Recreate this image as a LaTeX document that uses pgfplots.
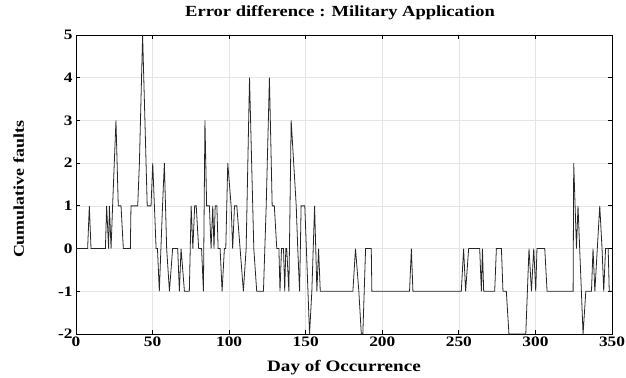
\documentclass[border=0pt]{standalone}
\usepackage{pgfplots}
\pgfplotsset{compat=1.18}
\usepackage{fontspec}
\setmainfont{Liberation Serif}[FakeStretch=1.2]
\begin{document}
\begin{tikzpicture}
\path[use as bounding box] (-76bp,-44bp) rectangle (550bp,334bp);
\begin{axis}[
  at={(0,0)}, anchor=south west,
  scale only axis, width=536bp, height=299bp,
  xmin=0, xmax=350, ymin=-2, ymax=5,
  xtick={0,50,...,350}, ytick={-2,-1,...,5},
  grid=major, grid style={line width=0.6pt, draw=black!10},
  tick align=inside, major tick length=4bp,
  axis line style={line width=0.8pt},
  tick style={line width=0.8pt, black},
  /pgf/number format/assume math mode=true,
  ticklabel style={font=\fontsize{14.5}{14.5}\selectfont\bfseries},
  xticklabel style={yshift=1bp},
  title={\fontsize{15.5}{15.5}\selectfont\bfseries Error difference : Military Application},
  title style={at={(axis description cs:0.5,1)}, anchor=base, yshift=13bp, xshift=-4bp},
  xlabel={\fontsize{16}{16}\selectfont\bfseries Day of Occurrence},
  ylabel={\fontsize{15}{15}\selectfont\bfseries Cumulative faults},
  xlabel style={at={(axis description cs:0.5,0)}, anchor=base, yshift=-37bp},
  ylabel style={at={(axis description cs:0,0.5)}, anchor=base, yshift=52bp, xshift=-5bp},
]
\addplot[black!85, line width=0.8pt, line join=miter] coordinates {
(0,0)(7.6,0)(8.7,1)(9.8,0)(19.2,0)(20,1)(21.3,0)(21.8,1)(22.9,0)(23.9,1)(26.1,3)(27.6,1)(29.4,1)(30.9,0)(35.5,0)(35.9,1)(40.3,1)(41.4,2)(43.5,5)(46.5,1)(49,1)(50.1,2)(52.3,0)(53.2,0)(54.4,-1)(56.5,1)(57.7,2)(59.2,0)(61,-1)(63.1,0)(66.4,0)(67.5,-1)(68.6,0)(70.8,-1)(74,-1)(75.2,1)(76.3,0)(77.5,1)(78.5,1)(80.1,0)(82,0)(83.2,-1)(84.2,3)(85.3,1)(87.1,1)(88.2,0)(89.3,1)(90.1,0)(90.9,1)(92,1)(92.8,0)(94.1,0)(95.4,-1)(96.9,0)(97.8,0)(99.1,2)(101.3,1)(102.3,0)(103.5,1)(105,1)(109.3,-1)(111.1,0)(113.3,4)(116.1,0)(118,-1)(122.4,-1)(124.2,1)(126.3,4)(128.1,1)(129.5,1)(131.1,0)(132.5,0)(133.2,-1)(134.2,0)(135.5,0)(136.3,-1)(137,0)(137.6,0)(139,-1)(140.5,3)(143.8,1)(144.8,0)(146,-1)(147,1)(149.4,1)(152.5,-2)(154,-1)(155.8,1)(157.3,-1)(158.4,0)(159.5,-1)(180.8,-1)(182.5,0)(184.7,-1)(186.3,-2)(187.3,-2)(189.1,0)(192.8,0)(193.2,-1)(217.8,-1)(219,0)(220,-1)(251.6,-1)(253.1,0)(254.4,-1)(256.4,0)(263.6,0)(264.7,-1)(265.4,0)(266.2,-1)(273.4,-1)(274.5,0)(277.8,0)(278.8,-1)(281,-1)(282.7,-2)(293.7,-2)(295.8,0)(297.4,-1)(298.9,0)(300.2,-1)(301,0)(306.1,0)(307.6,-1)(324.6,-1)(325,2)(326.8,0)(327.8,1)(331.1,-2)(332.9,-1)(336.6,-1)(337.6,0)(338.8,-1)(342,1)(343.5,0)(344.6,-1)(345.8,0)(347.5,0)(348.2,-1)(350,-1)
};
\end{axis}
\end{tikzpicture}
\end{document}
